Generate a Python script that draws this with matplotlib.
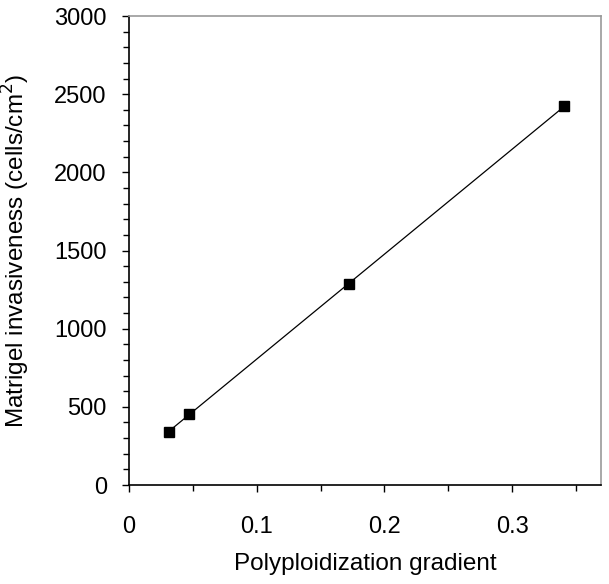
import numpy as np
import matplotlib.pyplot as plt
from matplotlib.ticker import MultipleLocator

plt.rcParams.update({
    'font.family': ['Liberation Sans', 'DejaVu Sans'],
    'font.size': 17,
})

# data
gradient = [0.031, 0.047, 0.172, 0.341]
invasiveness = [339, 454, 1286, 2424]

fig = plt.figure(figsize=(6.09, 5.84), dpi=100)
ax = fig.add_axes([0.2118, 0.1695, 0.7751, 0.8031])

# linear fit through the points
slope, intercept = np.polyfit(gradient, invasiveness, 1)
xs = np.array([min(gradient), max(gradient)])
ax.plot(xs, slope * xs + intercept, color='black', lw=0.9)
ax.plot(gradient, invasiveness, 's', color='black', ms=7)

ax.set_xlim(0, 0.3696)
ax.set_ylim(0, 3000)
ax.xaxis.set_major_locator(MultipleLocator(0.1))
ax.xaxis.set_minor_locator(MultipleLocator(0.05))
ax.yaxis.set_major_locator(MultipleLocator(500))
ax.yaxis.set_minor_locator(MultipleLocator(100))
ax.set_xticks([0, 0.1, 0.2, 0.3])
ax.set_xticklabels(['0', '0.1', '0.2', '0.3'])

ax.tick_params(which='major', direction='out', length=5, width=1, color='black', labelsize=17)
ax.tick_params(which='minor', direction='out', length=4, width=1, color='black')
ax.tick_params(axis='x', which='major', pad=17)
ax.tick_params(axis='y', which='major', pad=11)
ax.tick_params(top=False, right=False, which='both')

for s in ['left', 'bottom']:
    ax.spines[s].set_color('black')
    ax.spines[s].set_linewidth(1.2)
for s in ['top', 'right']:
    ax.spines[s].set_color('#999999')
    ax.spines[s].set_linewidth(1.2)

ax.set_xlabel('Polyploidization gradient', fontsize=17.5)
ax.set_ylabel('Matrigel invasiveness (cells/cm$^2$)', fontsize=17.5)
ax.xaxis.set_label_coords(0.5, -0.145)
ax.yaxis.set_label_coords(-0.205, 0.5)

fig.savefig('out.png', dpi=100)
